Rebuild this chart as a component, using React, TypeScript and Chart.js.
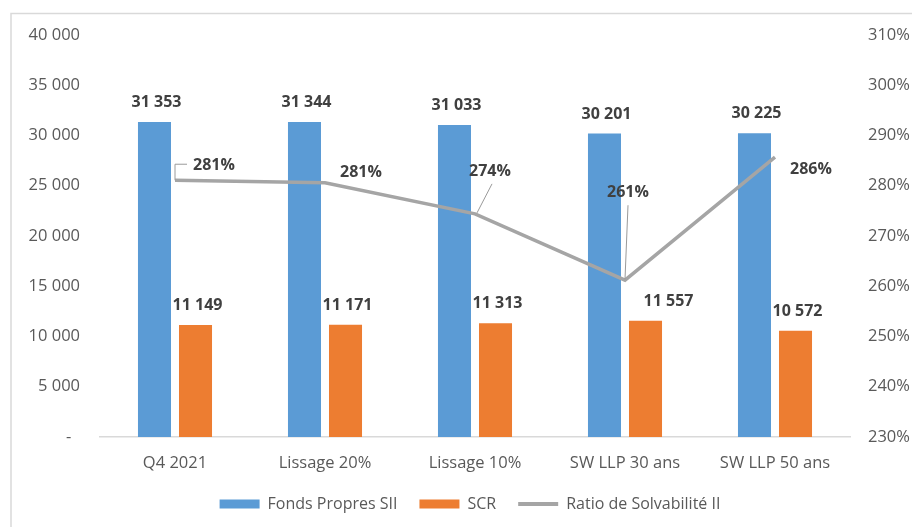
import { useEffect, useRef } from 'react';
import { Chart, registerables } from 'chart.js';

Chart.register(...registerables);

// ---- data ----
const categories = ['Q4 2021', 'Lissage 20%', 'Lissage 10%', 'SW LLP 30 ans', 'SW LLP 50 ans'];
const fondsPropres = [31353, 31344, 31033, 30201, 30225];
const scr = [11149, 11171, 11313, 11557, 10572];
const ratio = [281.1, 280.6, 274.4, 261.2, 285.7];
const seriesNames = ['Fonds Propres SII', 'SCR', 'Ratio de Solvabilité II'];

// ---- styles ----
const FONT = "'Open Sans', sans-serif";
const BLUE = '#5B9BD5';
const ORANGE = '#ED7D31';
const GREY = '#A5A5A5';
const TICK = '#595959';
const LABEL = '#404040';

// extra horizontal nudges for bar value labels (per dataset, per category)
const barLabelNudge = [
  [0, 0, 0, 0, 0],
  [0, 0, 0, 21, 0],
];

// label placement for ratio labels (relative offsets from the point) and leader lines
const ratioLabelStyle = [
  { dx: 39, dy: -15, leader: [[0, 0], [0, -16], [12, -16]] },
  { dx: 36, dy: -10, leader: null },
  { dx: 15, dy: -42, leader: [[2, -1], [17, -30]] },
  { dx: 3, dy: -88, leader: [[0, -1], [3, -75]] },
  { dx: 36, dy: 12, leader: null },
];

const fmt = (v: number) => String(Math.round(v)).replace(/\B(?=(\d{3})+(?!\d))/g, ' ');

const framePlugin = {
  id: 'frame',
  beforeDraw(chart: any) {
    const { ctx, width, height } = chart;
    ctx.save();
    ctx.fillStyle = '#ffffff';
    ctx.fillRect(0, 0, width, height);
    ctx.strokeStyle = '#d9d9d9';
    ctx.lineWidth = 1.5;
    ctx.beginPath();
    ctx.moveTo(11, height);
    ctx.lineTo(11, 13.5);
    ctx.lineTo(width, 13.5);
    ctx.stroke();
    ctx.restore();
  },
};

const labelsPlugin = {
  id: 'valueLabels',
  afterDatasetsDraw(chart: any) {
    const { ctx } = chart;
    ctx.save();
    ctx.font = `bold 16px ${FONT}`;
    ctx.fillStyle = LABEL;
    ctx.textAlign = 'center';
    ctx.textBaseline = 'middle';
    [0, 1].forEach((di) => {
      const meta = chart.getDatasetMeta(di);
      meta.data.forEach((el: any, i: number) => {
        const v = chart.data.datasets[di].data[i] as number;
        ctx.fillText(fmt(v), el.x + 2 + barLabelNudge[di][i], el.y - 19.5);
      });
    });
    const lineMeta = chart.getDatasetMeta(2);
    lineMeta.data.forEach((el: any, i: number) => {
      const st = ratioLabelStyle[i];
      const v = chart.data.datasets[2].data[i] as number;
      if (st.leader) {
        ctx.strokeStyle = '#9a9a9a';
        ctx.lineWidth = 1;
        ctx.beginPath();
        st.leader.forEach((p: number[], k: number) => {
          const x = el.x + p[0];
          const y = el.y + p[1];
          if (k === 0) ctx.moveTo(x, y);
          else ctx.lineTo(x, y);
        });
        ctx.stroke();
      }
      ctx.fillStyle = LABEL;
      ctx.fillText(`${Math.round(v)}%`, el.x + st.dx, el.y + st.dy);
    });
    ctx.restore();
  },
};

export default function App() {
  const ref = useRef<HTMLCanvasElement | null>(null);

  useEffect(() => {
    if (!ref.current) return;
    const chart = new Chart(ref.current, {
      type: 'bar',
      data: {
        labels: categories,
        datasets: [
          {
            label: seriesNames[0],
            data: fondsPropres,
            backgroundColor: BLUE,
            borderWidth: 0,
            order: 1,
            categoryPercentage: 0.547,
            barPercentage: 0.805,
            yAxisID: 'y',
          },
          {
            label: seriesNames[1],
            data: scr,
            backgroundColor: ORANGE,
            borderWidth: 0,
            order: 1,
            categoryPercentage: 0.547,
            barPercentage: 0.805,
            yAxisID: 'y',
          },
          {
            type: 'line',
            label: seriesNames[2],
            data: ratio,
            borderColor: GREY,
            backgroundColor: GREY,
            borderWidth: 3.5,
            pointRadius: 0,
            tension: 0,
            order: 0,
            yAxisID: 'y1',
          } as any,
        ],
      },
      options: {
        responsive: false,
        maintainAspectRatio: false,
        animation: false,
        events: [],
        layout: { padding: { left: 28, right: 0, top: 35, bottom: 5 } },
        plugins: {
          tooltip: { enabled: false },
          legend: {
            position: 'bottom',
            labels: {
              usePointStyle: true,
              pointStyleWidth: 40,
              boxWidth: 40,
              boxHeight: 9,
              padding: 22,
              color: TICK,
              font: { family: FONT, size: 16 },
              generateLabels: (c: any) =>
                c.data.datasets.map((ds: any, i: number) => ({
                  text: ds.label,
                  fillStyle: i === 2 ? GREY : ds.backgroundColor,
                  strokeStyle: i === 2 ? GREY : ds.backgroundColor,
                  lineWidth: i === 2 ? 4 : 0,
                  pointStyle: i === 2 ? 'line' : 'rect',
                  hidden: false,
                  datasetIndex: i,
                  fontColor: TICK,
                })),
            },
          },
        },
        scales: {
          x: {
            grid: { display: false, drawTicks: false },
            border: { display: true, color: '#d9d9d9', width: 1.5 },
            ticks: { padding: 16, color: TICK, font: { family: FONT, size: 16.5 } },
            afterFit: (s: any) => {
              s.height = 37;
            },
          },
          y: {
            position: 'left',
            min: 0,
            max: 40000,
            grid: { display: false, drawTicks: false },
            border: { display: false },
            ticks: {
              stepSize: 5000,
              padding: 20,
              color: TICK,
              font: { family: FONT, size: 16.5 },
              callback: (v: any) => (Number(v) === 0 ? '-  ' : fmt(Number(v))),
            },
            afterFit: (s: any) => {
              s.width = 72;
            },
          },
          y1: {
            position: 'right',
            min: 230,
            max: 310,
            grid: { display: false, drawTicks: false },
            border: { display: false },
            ticks: {
              stepSize: 10,
              padding: 18,
              color: TICK,
              font: { family: FONT, size: 16.5 },
              callback: (v: any) => `${v}%`,
            },
            afterFit: (s: any) => {
              s.width = 62;
            },
          },
        },
      },
      plugins: [framePlugin, labelsPlugin],
    } as any);
    return () => chart.destroy();
  }, []);

  return (
    <div style={{ position: 'fixed', left: 0, top: 0, width: 912, height: 527, background: '#fff' }}>
      <canvas ref={ref} width={912} height={527} style={{ display: 'block', width: 912, height: 527 }} />
    </div>
  );
}
